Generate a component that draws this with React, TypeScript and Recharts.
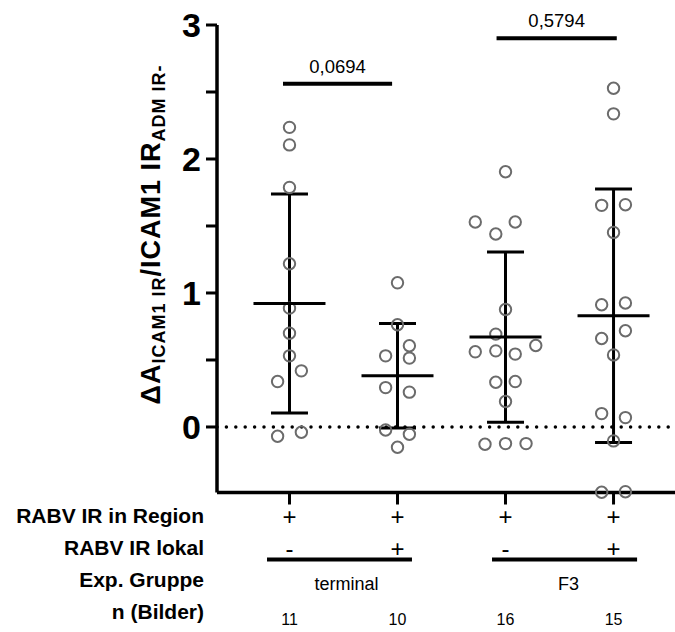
import React from 'react';
import {
  ComposedChart,
  Scatter,
  XAxis,
  YAxis,
  ErrorBar,
  ReferenceLine
} from 'recharts';

const FONT = '"Liberation Sans", Arial, Helvetica, sans-serif';

// table under the x axis, one entry per group (x = 1..4)
const rowTitles = ['RABV IR in Region', 'RABV IR lokal', 'Exp. Gruppe', 'n (Bilder)'];
const regionRow = ['+', '+', '+', '+'];
const lokalRow = ['-', '+', '-', '+'];
const nRow = ['11', '10', '16', '15'];
const groupNames = ['terminal', 'F3'];

// individual images per group
const terminalMinus = [2.236, 2.105, 1.788, 1.218, 0.887, 0.7, 0.531, 0.419, 0.339, -0.039, -0.069];
const terminalMinusJitter = [0, 0, 0, 0, 0, 0, 0, 0.11, -0.11, 0.11, -0.11];

const terminalPlus = [1.076, 0.763, 0.606, 0.531, 0.514, 0.294, 0.26, -0.022, -0.054, -0.151];
const terminalPlusJitter = [0, 0, 0.11, -0.11, 0.11, -0.11, 0.11, -0.11, 0.11, 0];

const f3Minus = [1.905, 1.53, 1.44, 1.53, 0.877, 0.693, 0.608, 0.561, 0.568, 0.544, 0.334, 0.339, 0.19, -0.129, -0.124, -0.124];
const f3MinusJitter = [0, -0.28, -0.09, 0.09, 0, -0.09, 0.28, -0.28, -0.09, 0.09, -0.09, 0.09, 0, -0.19, 0, 0.19];

const f3Plus = [2.528, 2.337, 1.654, 1.659, 1.452, 0.912, 0.925, 0.718, 0.66, 0.538, 0.1, 0.07, -0.104, -0.487, -0.483];
const f3PlusJitter = [0, 0, -0.11, 0.11, 0, -0.11, 0.11, 0.11, -0.11, 0, -0.11, 0.11, 0, -0.11, 0.11];

// mean +/- SD
const means = [0.922, 0.382, 0.671, 0.83];
const sds = [0.817, 0.39, 0.635, 0.946];

const pValues = ['0,0694', '0,5794'];

const yTicks = [0, 0.5, 1, 1.5, 2, 2.5, 3];

const groupValues = [terminalMinus, terminalPlus, f3Minus, f3Plus];
const groupJitter = [terminalMinusJitter, terminalPlusJitter, f3MinusJitter, f3PlusJitter];

const points = groupValues.flatMap((vals, g) =>
  vals.map((y, i) => ({ x: g + 1 + groupJitter[g][i], y }))
);
const summary = means.map((m, g) => ({ x: g + 1, y: m, sd: sds[g] }));

const OpenCircle = (props: any) => (
  <circle cx={props.cx} cy={props.cy} r={5.7} fill="none" stroke="#6b6b6b" strokeWidth={2} />
);

const MeanLine = (props: any) => (
  <line x1={props.cx - 36} x2={props.cx + 36} y1={props.cy} y2={props.cy} stroke="#000" strokeWidth={3} />
);

const YTick = (props: any) => {
  const { x, y, payload } = props;
  if (!Number.isInteger(payload.value)) return <g />;
  return (
    <text x={x - 3} y={y} dy="0.36em" textAnchor="end" fontSize={34} fontWeight="bold" fontFamily={FONT} fill="#000">
      {payload.value}
    </text>
  );
};

const XTick = (props: any) => {
  const { x, y, payload } = props;
  const i = Math.round(payload.value) - 1;
  return (
    <g fontFamily={FONT} fill="#000" textAnchor="middle">
      <text x={x} y={y + 18.5} fontSize={24}>{regionRow[i]}</text>
      <text x={x} y={y + 50.5} fontSize={24}>{lokalRow[i]}</text>
      <text x={x} y={y + 118} fontSize={16}>{nRow[i]}</text>
    </g>
  );
};

const RowTitles = (props: any) => {
  const vb = props.viewBox;
  const offsets = [30.5, 62.5, 94.5, 126.5];
  return (
    <g fontFamily={FONT} fontWeight="bold" fontSize={21} textAnchor="end" fill="#000">
      {rowTitles.map((t, i) => (
        <text key={t} x={vb.x - 13} y={vb.y + offsets[i]}>{t}</text>
      ))}
    </g>
  );
};

const YTitle = () => (
  <text
    transform="translate(160,234.5) rotate(-90)"
    textAnchor="middle"
    fontFamily={FONT}
    fontWeight="bold"
    fontSize={27}
    letterSpacing={1}
    fill="#000"
  >
    ΔA<tspan fontSize={18} dy={5}>ICAM1 IR</tspan>
    <tspan dy={-5}>/ICAM1 IR</tspan>
    <tspan fontSize={18} dy={5}>ADM IR-</tspan>
  </text>
);

const groupLabel = (name: string, dx: number) => (props: any) => {
  const vb = props.viewBox;
  return (
    <text x={vb.x + vb.width / 2 + dx} y={vb.y + 30.5} textAnchor="middle" fontFamily={FONT} fontSize={18} fill="#000">
      {name}
    </text>
  );
};

const pLabel = (value: string) => ({
  value,
  position: 'top' as const,
  offset: 11,
  fontSize: 18.5,
  fill: '#000',
  fontFamily: FONT
});

export default function App() {
  return (
    <div style={{ position: 'absolute', left: 0, top: 0, background: '#fff' }}>
      <ComposedChart width={675} height={632} margin={{ top: 25, right: 0, bottom: 0, left: 0 }}>
        <XAxis
          type="number"
          dataKey="x"
          domain={[0.329, 4.569]}
          ticks={[1, 2, 3, 4]}
          height={139.5}
          tickSize={12}
          axisLine={{ stroke: '#000', strokeWidth: 3.5 }}
          tickLine={{ stroke: '#000', strokeWidth: 3 }}
          tick={<XTick />}
          label={(p: any) => <RowTitles {...p} />}
        />
        <YAxis
          type="number"
          dataKey="y"
          domain={[-0.489, 3]}
          ticks={yTicks}
          width={217}
          tickSize={11}
          axisLine={{ stroke: '#000', strokeWidth: 3.5 }}
          tickLine={{ stroke: '#000', strokeWidth: 3 }}
          tick={<YTick />}
          label={() => <YTitle />}
        />
        <ReferenceLine
          y={0}
          stroke="#000"
          strokeWidth={3.5}
          strokeDasharray="0 9.4"
          strokeLinecap="round"
        />
        <ReferenceLine
          segment={[{ x: 0.94, y: 2.561 }, { x: 1.95, y: 2.561 }]}
          stroke="#000"
          strokeWidth={4}
          ifOverflow="visible"
          label={pLabel(pValues[0])}
        />
        <ReferenceLine
          segment={[{ x: 2.917, y: 2.901 }, { x: 4.03, y: 2.901 }]}
          stroke="#000"
          strokeWidth={4}
          ifOverflow="visible"
          label={pLabel(pValues[1])}
        />
        <ReferenceLine
          segment={[{ x: 0.792, y: -0.989 }, { x: 2.134, y: -0.989 }]}
          stroke="#000"
          strokeWidth={4}
          ifOverflow="visible"
          label={groupLabel(groupNames[0], 7)}
        />
        <ReferenceLine
          segment={[{ x: 2.875, y: -0.989 }, { x: 4.218, y: -0.989 }]}
          stroke="#000"
          strokeWidth={4}
          ifOverflow="visible"
          label={groupLabel(groupNames[1], 4)}
        />
        <Scatter data={points} shape={<OpenCircle />} isAnimationActive={false} />
        <Scatter data={summary} shape={<MeanLine />} isAnimationActive={false}>
          <ErrorBar dataKey="sd" direction="y" width={18.5} strokeWidth={3} stroke="#000" isAnimationActive={false} />
        </Scatter>
      </ComposedChart>
    </div>
  );
}
